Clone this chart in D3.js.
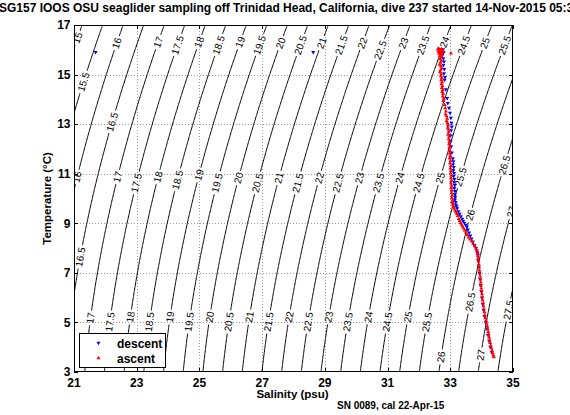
<!DOCTYPE html>
<html><head><meta charset="utf-8">
<script src="https://cdn.jsdelivr.net/npm/d3@7"></script>
<style>
body{margin:0;background:#fff}
svg{display:block;font-family:"Liberation Sans",Arial,Helvetica,sans-serif}
</style>
</head><body>
<svg id="c" width="570" height="415"></svg>
<script>
// ---------------- data ----------------
const titleText = "SG157 IOOS OSU seaglider sampling off Trinidad Head, California, dive 237 started 14-Nov-2015 05:38";
const xLabelText = "Salinity (psu)";
const yLabelText = "Temperature (\u00B0C)";
const footText = "SN 0089, cal 22-Apr-15";
const xTicks = [21, 23, 25, 27, 29, 31, 33, 35];
const yTicks = [3, 5, 7, 9, 11, 13, 15, 17];
const sigmaLevels = [15, 15.5, 16, 16.5, 17, 17.5, 18, 18.5, 19, 19.5, 20, 20.5, 21, 21.5, 22, 22.5,
  23, 23.5, 24, 24.5, 25, 25.5, 26, 26.5, 27, 27.5];
// temperatures at which each contour carries its label
const labelTemps = {
  15: [16.48], 15.5: [14.70], 16: [16.27, 10.87], 16.5: [13.09, 7.64],
  17: [16.31, 10.87, 5.18], 17.5: [16.19, 10.63, 5.02], 18: [16.31, 10.87, 5.22], 18.5: [16.19, 10.75, 5.02],
  19: [16.31, 10.95, 5.22], 19.5: [16.19, 10.63, 5.02], 20: [16.27, 10.83, 5.22], 20.5: [16.19, 10.63, 5.02],
  21: [16.27, 10.83, 5.22], 21.5: [16.19, 10.63, 5.02], 22: [16.27, 10.83, 5.22], 22.5: [15.99, 10.63, 5.02],
  23: [16.27, 10.83, 5.22], 23.5: [16.19, 10.63, 5.02], 24: [16.31, 10.83, 5.22], 24.5: [16.19, 10.63, 5.02],
  25: [16.27, 10.83, 5.22], 25.5: [16.19, 10.87, 5.02], 26: [9.33, 3.61], 26.5: [11.35, 5.82],
  27: [9.46, 3.69], 27.5: [5.50]
};
// descent profile [salinity, temperature]
const descent = [
  [21.69,15.90],[28.63,15.90],
  [32.70,16.00],[32.74,15.95],[32.77,16.02],[32.72,15.88],[32.76,15.84],[32.79,15.90],[32.74,15.78],
  [32.78,15.65],[32.80,15.52],[32.78,15.38],[32.81,15.22],[32.80,15.05],[32.83,14.90],[32.82,14.78],
  [32.86,14.40],[32.90,14.05],[32.92,13.85],[32.96,13.65],[32.99,13.45],[33.02,13.25],[33.04,13.05],
  [33.05,12.90],[33.03,12.75],[33.02,12.55],[33.01,12.30],[33.03,12.10],[33.05,11.85],
  [33.08,11.62],[33.10,11.50],[33.09,11.38],[33.11,11.26],[33.10,11.14],[33.12,11.02],[33.11,10.90],
  [33.13,10.78],[33.12,10.66],[33.14,10.54],[33.13,10.42],[33.15,10.30],[33.14,10.18],[33.16,10.06],
  [33.15,9.95],[33.17,9.85],[33.18,9.75],[33.20,9.68],
  [33.22,9.60],[33.26,9.48],[33.30,9.38],[33.34,9.28],[33.38,9.18],[33.41,9.10],[33.45,9.02],[33.49,8.93],
  [33.53,8.85],[33.56,8.74],[33.60,8.62],[33.64,8.50],[33.68,8.38],[33.72,8.26],[33.77,8.12],[33.82,8.00],
  [33.85,7.90],[33.87,7.80],[33.88,7.70],
  [33.89,7.50],[33.91,7.25],[33.93,7.00],[33.95,6.75],[33.97,6.50],[33.99,6.25],[34.01,6.00],[34.03,5.75],
  [34.06,5.50],[34.09,5.25],[34.13,5.00],[34.17,4.75],[34.20,4.50],[34.24,4.25],[34.28,4.00],[34.32,3.80]
];
// ascent profile [salinity, temperature]
const ascent = [
  [33.02,15.86],
  [32.60,16.02],[32.63,16.05],[32.66,16.00],[32.69,15.97],[32.72,16.03],[32.75,15.99],[32.62,15.93],[32.66,15.90],
  [32.70,15.92],[32.74,15.88],[32.78,15.94],[32.64,15.85],[32.68,15.82],[32.72,15.80],[32.67,15.74],[32.71,15.70],
  [32.68,15.62],[32.72,15.55],[32.69,15.48],[32.66,15.40],[32.70,15.33],[32.73,15.25],[32.69,15.18],[32.67,15.10],
  [32.71,15.02],[32.70,14.94],[32.73,14.86],[32.71,14.78],[32.74,14.70],[32.72,14.62],[32.75,14.54],[32.73,14.46],
  [32.76,14.38],[32.74,14.30],[32.77,14.22],[32.76,14.12],[32.79,14.03],[32.78,13.94],
  [32.82,13.78],[32.84,13.65],[32.86,13.52],[32.85,13.40],[32.88,13.32],[32.90,13.22],[32.88,13.12],[32.91,13.04],
  [32.93,12.95],[32.92,12.86],[32.94,12.78],[32.95,12.68],[32.93,12.58],[32.96,12.50],[32.95,12.40],[32.97,12.30],
  [32.96,12.20],[32.98,12.10],[32.97,12.02],
  [32.99,11.92],[32.98,11.82],[33.00,11.72],[32.98,11.62],[33.01,11.52],[32.99,11.42],[33.02,11.32],[33.00,11.22],
  [33.02,11.12],[33.01,11.02],[33.03,10.92],[33.02,10.82],[33.04,10.72],[33.02,10.62],[33.04,10.52],[33.03,10.42],
  [33.05,10.32],[33.04,10.22],[33.06,10.12],[33.05,10.02],[33.07,9.92],[33.06,9.84],[33.08,9.76],
  [33.10,9.68],[33.12,9.60],[33.15,9.52],[33.18,9.45],[33.21,9.38],[33.24,9.30],
  [33.27,9.18],[33.30,9.10],[33.33,9.02],[33.36,8.95],[33.39,8.88],[33.42,8.80],[33.46,8.72],[33.50,8.63],
  [33.54,8.53],[33.58,8.43],[33.63,8.35],[33.68,8.27],[33.73,8.18],[33.78,8.08],[33.82,7.98],[33.85,7.88],
  [33.87,7.78],[33.88,7.68],
  [33.89,7.58],[33.90,7.46],[33.91,7.34],[33.92,7.22],[33.93,7.10],[33.94,6.98],[33.95,6.86],[33.96,6.74],
  [33.97,6.62],[33.98,6.50],[33.99,6.38],[34.00,6.26],[34.01,6.14],[34.02,6.02],[34.03,5.90],[34.05,5.78],
  [34.06,5.66],[34.07,5.54],[34.09,5.42],[34.10,5.30],[34.12,5.18],[34.14,5.06],
  [34.16,4.95],[34.18,4.84],[34.19,4.73],[34.21,4.62],[34.22,4.51],[34.24,4.40],[34.25,4.29],[34.27,4.18],
  [34.29,4.07],[34.31,3.96],[34.33,3.86],[34.35,3.76],[34.37,3.67],[34.39,3.60]
];
const legendItems = [{name: "descent", color: "#0000ff", down: true}, {name: "ascent", color: "#ff0000", down: false}];

// ---------------- chart ----------------
const svg = d3.select("#c");
const M = {l: 74, r: 513, t: 25, b: 372};
const x = d3.scaleLinear().domain([21, 35]).range([M.l, M.r]);
const y = d3.scaleLinear().domain([3, 17]).range([M.b, M.t]);

// UNESCO EOS-80 density anomaly at surface pressure
function sigma(S, T) {
  const rw = 999.842594 + 6.793952e-2*T - 9.095290e-3*T*T + 1.001685e-4*T**3 - 1.120083e-6*T**4 + 6.536332e-9*T**5;
  const A = 0.824493 - 4.0899e-3*T + 7.6438e-5*T*T - 8.2467e-7*T**3 + 5.3875e-9*T**4;
  const B = -5.72466e-3 + 1.0227e-4*T - 1.6546e-6*T*T;
  const C = 4.8314e-4;
  return rw + A*S + B*Math.pow(S, 1.5) + C*S*S - 1000;
}
function solveS(lvl, T) {
  let lo = 0, hi = 45;
  for (let i = 0; i < 60; i++) { const mid = (lo + hi) / 2; if (sigma(mid, T) < lvl) lo = mid; else hi = mid; }
  return (lo + hi) / 2;
}

const defs = svg.append("defs");
defs.append("clipPath").attr("id", "plotclip").append("rect")
  .attr("x", M.l).attr("y", M.t).attr("width", M.r - M.l).attr("height", M.b - M.t);

// grid
const grid = svg.append("g").attr("stroke", "#9a9a9a").attr("stroke-width", 1).attr("stroke-dasharray", "1,2");
xTicks.slice(1, -1).forEach(v => grid.append("line").attr("x1", Math.round(x(v)) + 0.5).attr("x2", Math.round(x(v)) + 0.5).attr("y1", M.t).attr("y2", M.b));
yTicks.slice(1, -1).forEach(v => grid.append("line").attr("y1", Math.round(y(v)) + 0.5).attr("y2", Math.round(y(v)) + 0.5).attr("x1", M.l).attr("x2", M.r));

// contour labels & mask
const mask = defs.append("mask").attr("id", "lblmask").attr("maskUnits", "userSpaceOnUse")
  .attr("x", 0).attr("y", 0).attr("width", 570).attr("height", 415);
mask.append("rect").attr("x", 0).attr("y", 0).attr("width", 570).attr("height", 415).attr("fill", "#fff");
const labelG = svg.append("g").attr("clip-path", "url(#plotclip)");
const fmt = v => (Number.isInteger(v) ? String(v) : v.toFixed(1));
sigmaLevels.forEach(lvl => {
  (labelTemps[lvl] || []).forEach(T => {
    const S = solveS(lvl, T);
    const px = x(S), py = y(T);
    const a = [x(solveS(lvl, T - 0.3)), y(T - 0.3)], b = [x(solveS(lvl, T + 0.3)), y(T + 0.3)];
    let ang = Math.atan2(b[1] - a[1], b[0] - a[0]) * 180 / Math.PI;
    if (ang > 90) ang -= 180; if (ang <= -90) ang += 180;
    const t = labelG.append("text").attr("transform", `translate(${px},${py}) rotate(${ang})`)
      .attr("text-anchor", "middle").attr("dy", "0.35em").attr("font-size", 10).attr("fill", "#000").text(fmt(lvl));
    const w = t.node().getComputedTextLength() + 4;
    mask.append("rect").attr("x", -w / 2).attr("y", -5).attr("width", w).attr("height", 10)
      .attr("transform", `translate(${px},${py}) rotate(${ang})`).attr("fill", "#000");
  });
});

// contour lines
const Ts = d3.range(2.8, 17.25, 0.05);
const line = d3.line().x(d => x(d[0])).y(d => y(d[1]));
const cg = svg.append("g").attr("clip-path", "url(#plotclip)").append("g").attr("mask", "url(#lblmask)");
sigmaLevels.forEach(lvl => {
  const pts = Ts.map(T => [solveS(lvl, T), T]);
  cg.append("path").attr("d", line(pts)).attr("fill", "none").attr("stroke", "#000").attr("stroke-width", 1);
});

// data
const sym = d3.symbol().type(d3.symbolTriangle).size(7);
const dg = svg.append("g").attr("clip-path", "url(#plotclip)");
dg.selectAll(".d").data(descent).join("path").attr("d", sym)
  .attr("transform", d => `translate(${x(d[0])},${y(d[1])}) rotate(180)`).attr("fill", "#0000ff");
dg.selectAll(".a").data(ascent).join("path").attr("d", sym)
  .attr("transform", d => `translate(${x(d[0])},${y(d[1])})`).attr("fill", "#ff0000");

// axes box and ticks
svg.append("rect").attr("x", M.l + 0.5).attr("y", M.t + 0.5).attr("width", M.r - M.l - 1).attr("height", M.b - M.t - 1)
  .attr("fill", "none").attr("stroke", "#000").attr("stroke-width", 1);
const tk = svg.append("g").attr("stroke", "#000").attr("stroke-width", 1);
xTicks.forEach(v => {
  const px = Math.round(x(v)) + 0.5;
  tk.append("line").attr("x1", px).attr("x2", px).attr("y1", M.b).attr("y2", M.b - 4);
  tk.append("line").attr("x1", px).attr("x2", px).attr("y1", M.t).attr("y2", M.t + 4);
});
yTicks.forEach(v => {
  const py = Math.round(y(v)) + 0.5;
  tk.append("line").attr("y1", py).attr("y2", py).attr("x1", M.l).attr("x2", M.l + 4);
  tk.append("line").attr("y1", py).attr("y2", py).attr("x1", M.r).attr("x2", M.r - 4);
});
const tl = svg.append("g").attr("font-size", 12).attr("font-weight", "bold").attr("fill", "#000");
xTicks.forEach(v => tl.append("text").attr("x", x(v)).attr("y", 387).attr("text-anchor", "middle").text(v));
yTicks.forEach(v => tl.append("text").attr("x", 70.5).attr("y", y(v)).attr("dy", "0.36em").attr("text-anchor", "end").text(v));

// labels
svg.append("text").attr("x", -1).attr("y", 11.5).attr("font-size", 12).attr("font-weight", "bold").text(titleText);
svg.append("text").attr("x", (M.l + M.r) / 2 - 1).attr("y", 398).attr("text-anchor", "middle")
  .attr("font-size", 11.5).attr("font-weight", "bold").text(xLabelText);
svg.append("text").attr("transform", `translate(50.5,${(M.t + M.b) / 2}) rotate(-90)`).attr("text-anchor", "middle")
  .attr("font-size", 11.5).attr("font-weight", "bold").text(yLabelText);
svg.append("text").attr("x", 337).attr("y", 409).attr("font-size", 10).attr("font-weight", "bold").text(footText);

// legend
const lg = svg.append("g");
lg.append("rect").attr("x", 79.5).attr("y", 333.5).attr("width", 86).attr("height", 34)
  .attr("fill", "#fff").attr("stroke", "#000").attr("stroke-width", 1);
legendItems.forEach((it, i) => {
  const cy = 343 + i * 15;
  lg.append("path").attr("d", sym).attr("transform", `translate(98.5,${cy})${it.down ? " rotate(180)" : ""}`).attr("fill", it.color);
  lg.append("text").attr("x", 117).attr("y", cy + 4.5).attr("font-size", 12).attr("font-weight", "bold").text(it.name);
});
</script>
</body></html>
